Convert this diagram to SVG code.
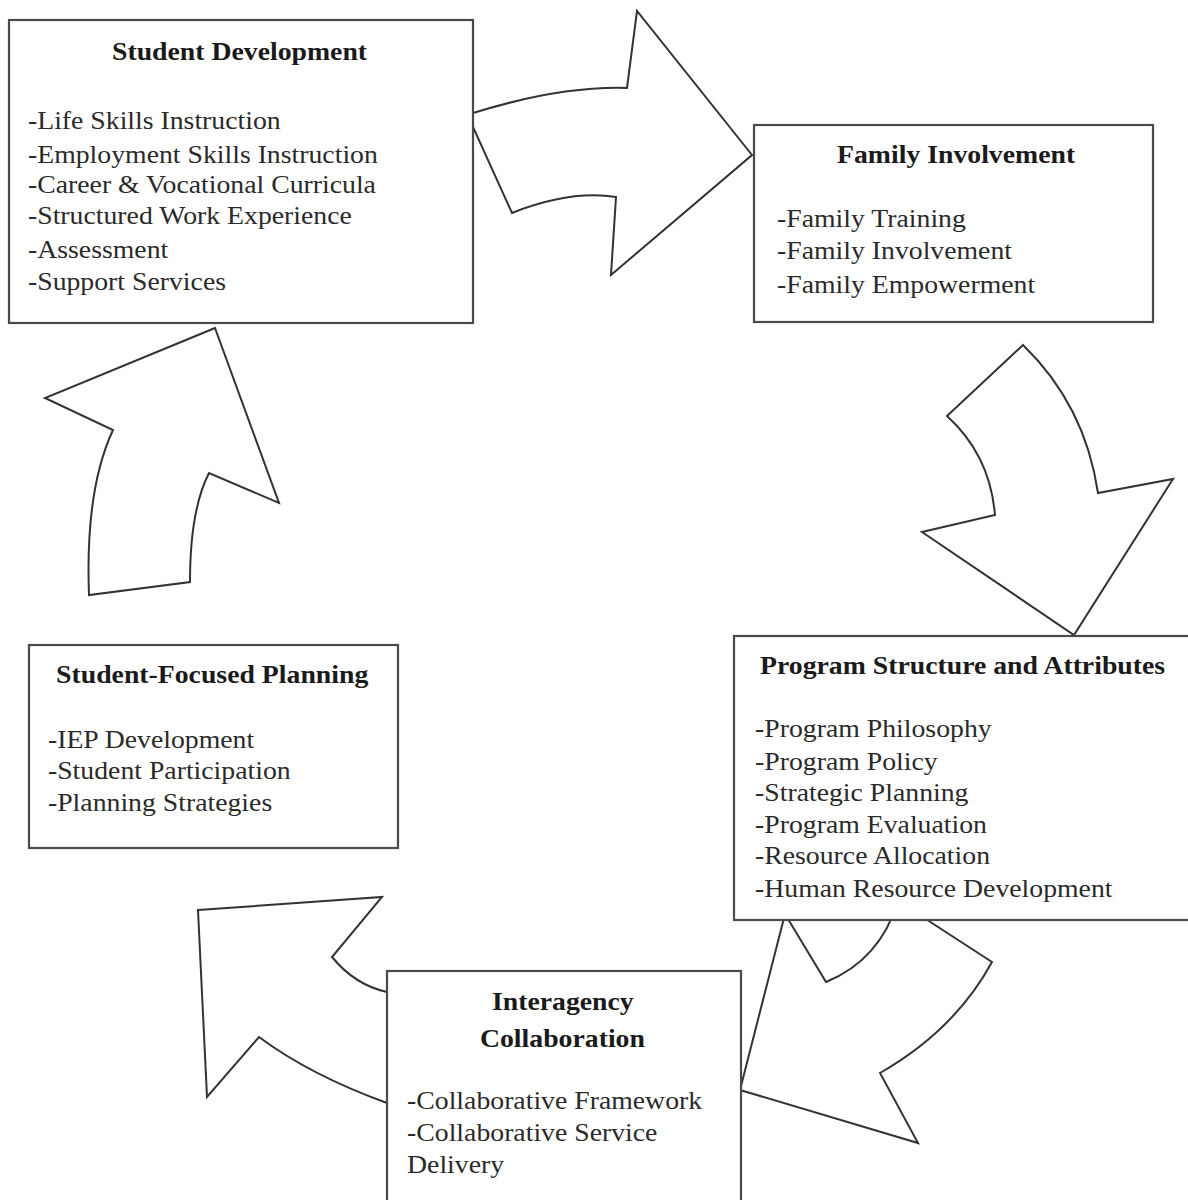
<svg xmlns="http://www.w3.org/2000/svg" width="1188" height="1200" viewBox="0 0 1188 1200">
<style>
.arrow{fill:#fff;stroke:#333;stroke-width:2;stroke-linejoin:miter}
.box{fill:#fff;stroke:#4a4a4a;stroke-width:2.2}
text{font-family:"Liberation Serif","Times New Roman",serif;font-size:25px;fill:#2a2a2a}
.t{font-weight:bold;fill:#1a1a1a}
</style>
<rect width="1188" height="1200" fill="#fff"/>
<g id="connectors">
<path class="arrow" d="M473,113 Q560,86 627,88 L637,11 L752,155 L611,275 L616,197 Q570,190 512,213 L473,127 Z"/>
<path class="arrow" d="M1023,345 L947,416 Q990,455 995,515 L922,532 L1074,635 L1173,479 L1098,493 Q1085,405 1023,345 Z"/>
<path class="arrow" d="M785,914 L740,1090 L918,1143 L880,1073 Q955,1030 992,962 L898,901 Q880,960 826,982 Z"/>
<path class="arrow" d="M198,910 L382,897 L332,957 Q355,985 387,992 L430,998 L430,1110 L387,1103 Q310,1075 259,1037 L207,1097 Z"/>
<path class="arrow" d="M215,328 L45,398 L113,430 Q85,490 89,595 L190,582 Q190,510 209,473 L279,503 Z"/>
</g>
<g id="student-development">
<rect class="box" x="9" y="20" width="464" height="303"/>
<g transform="scale(1.11,1)">
<text class="t" x="100.9" y="60">Student Development</text>
<text x="25.2" y="129">-Life Skills Instruction</text>
<text x="25.2" y="163">-Employment Skills Instruction</text>
<text x="25.2" y="193">-Career &amp; Vocational Curricula</text>
<text x="25.2" y="224">-Structured Work Experience</text>
<text x="25.2" y="258">-Assessment</text>
<text x="25.2" y="290">-Support Services</text>
</g>
</g>
<g id="family-involvement">
<rect class="box" x="754" y="125" width="399" height="197"/>
<g transform="scale(1.11,1)">
<text class="t" x="754.1" y="163">Family Involvement</text>
<text x="700" y="227">-Family Training</text>
<text x="700" y="259">-Family Involvement</text>
<text x="700" y="293">-Family Empowerment</text>
</g>
</g>
<g id="program-structure">
<rect class="box" x="734" y="636" width="470" height="284"/>
<g transform="scale(1.11,1)">
<text class="t" x="684.7" y="674">Program Structure and Attributes</text>
<text x="680.2" y="737">-Program Philosophy</text>
<text x="680.2" y="770">-Program Policy</text>
<text x="680.2" y="801">-Strategic Planning</text>
<text x="680.2" y="833">-Program Evaluation</text>
<text x="680.2" y="864">-Resource Allocation</text>
<text x="680.2" y="897">-Human Resource Development</text>
</g>
</g>
<g id="student-focused-planning">
<rect class="box" x="29" y="645" width="369" height="203"/>
<g transform="scale(1.11,1)">
<text class="t" x="50.5" y="683">Student-Focused Planning</text>
<text x="43.2" y="748">-IEP Development</text>
<text x="43.2" y="779">-Student Participation</text>
<text x="43.2" y="811">-Planning Strategies</text>
</g>
</g>
<g id="interagency-collaboration">
<rect class="box" x="387" y="971" width="354" height="240"/>
<g transform="scale(1.11,1)">
<text class="t" x="443.2" y="1010">Interagency</text>
<text class="t" x="432.4" y="1047">Collaboration</text>
<text x="366.7" y="1109">-Collaborative Framework</text>
<text x="366.7" y="1141">-Collaborative Service</text>
<text x="366.7" y="1173">Delivery</text>
</g>
</g>
</svg>
